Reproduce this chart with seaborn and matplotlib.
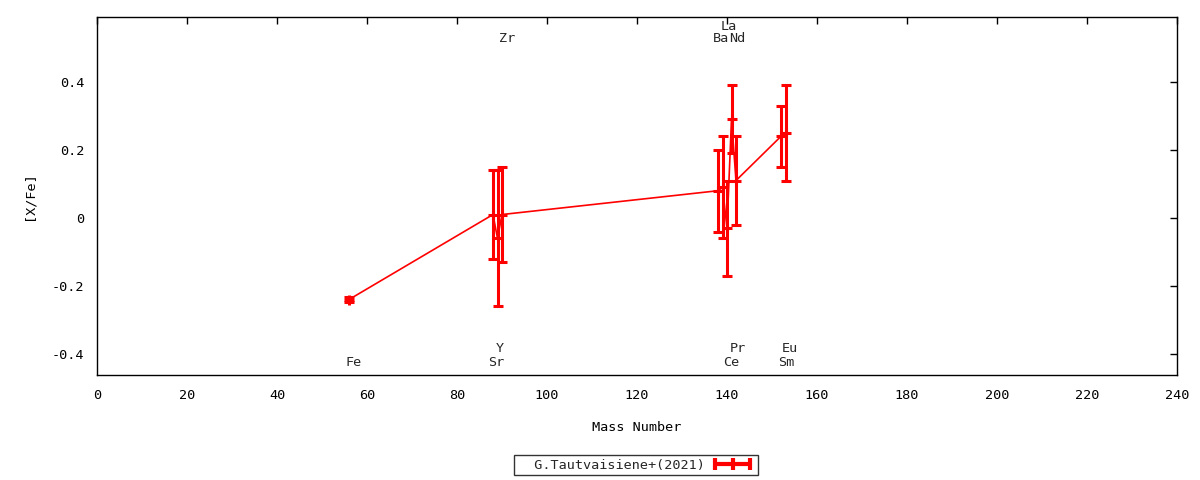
import pandas as pd
import matplotlib
matplotlib.use('Agg')
import matplotlib.pyplot as plt
from matplotlib.lines import Line2D
import seaborn as sns

# abundances
elements = ['Fe', 'Sr', 'Y', 'Zr', 'Ba', 'La', 'Ce', 'Pr', 'Nd', 'Sm', 'Eu']
mass = [56, 88, 89, 90, 138, 139, 140, 141, 142, 152, 153]
xfe = [-0.24, 0.01, -0.06, 0.01, 0.08, 0.09, -0.03, 0.29, 0.11, 0.24, 0.25]
xfe_err = [0.008, 0.13, 0.20, 0.14, 0.12, 0.15, 0.14, 0.10, 0.13, 0.09, 0.14]

# element labels: x position and which row (top rows above data, bottom rows below)
label_x = {'Fe': 57.1, 'Sr': 88.7, 'Y': 89.6, 'Zr': 91.1, 'Ba': 138.7, 'La': 140.3,
           'Ce': 140.9, 'Pr': 142.4, 'Nd': 142.3, 'Sm': 153.1, 'Eu': 154.0}
label_y = {'Fe': -0.426, 'Sr': -0.426, 'Y': -0.385, 'Zr': 0.529, 'Ba': 0.529, 'La': 0.562,
           'Ce': -0.426, 'Pr': -0.385, 'Nd': 0.529, 'Sm': -0.426, 'Eu': -0.385}

df = pd.DataFrame({'element': elements, 'mass': mass, 'xfe': xfe, 'err': xfe_err})

sns.set_theme(style='white')
plt.rcParams['font.family'] = ['DejaVu Sans Mono', 'DejaVu Sans']
plt.rcParams['font.size'] = 9.7

fig = plt.figure(figsize=(12, 4.8), dpi=100)
ax = fig.add_axes([97 / 1200, 1 - 375 / 480, 1080 / 1200, 358 / 480])

red = '#ff0000'
sns.lineplot(data=df, x='mass', y='xfe', sort=False, color=red, lw=1.2,
             marker='+', markersize=7, markeredgewidth=2.2, markeredgecolor=red, ax=ax)
ax.errorbar(df['mass'], df['xfe'], yerr=df['err'], fmt='none', ecolor=red,
            elinewidth=2.2, capsize=3.3, capthick=2.2)

for el in elements:
    ax.text(label_x[el], label_y[el], el, ha='center', va='center', fontsize=9.7)

ax.set_xlim(0, 240)
ax.set_ylim(-0.462, 0.591)
ax.set_xticks(range(0, 241, 20))
ax.set_yticks([-0.4, -0.2, 0, 0.2, 0.4])
ax.set_yticklabels(['-0.4', '-0.2', '0', '0.2', '0.4'])
ax.tick_params(direction='in', length=5, width=1, top=True, right=True,
               colors='black', labelsize=9.7)
ax.tick_params(axis='x', pad=10)
ax.tick_params(axis='y', pad=9)
for s in ax.spines.values():
    s.set_color('black')
    s.set_linewidth(1)

ax.set_xlabel('Mass Number', fontsize=9.7, labelpad=13.5, color='black')
ax.set_ylabel('[X/Fe]', fontsize=9.7, labelpad=12, color='black')

handle = Line2D([], [], color=red, lw=3, marker='|', markersize=8, markeredgewidth=3)
leg = fig.legend([handle], ['  G.Tautvaisiene+(2021)'], loc='center',
                 bbox_to_anchor=(636 / 1200, 1 - 465 / 480), numpoints=3,
                 markerfirst=False, frameon=True, fancybox=False, fontsize=9.7,
                 handlelength=3.2, handletextpad=0.5, borderpad=0.25, edgecolor='black')
leg.get_frame().set_linewidth(1)

fig.savefig('out.png', dpi=100)
